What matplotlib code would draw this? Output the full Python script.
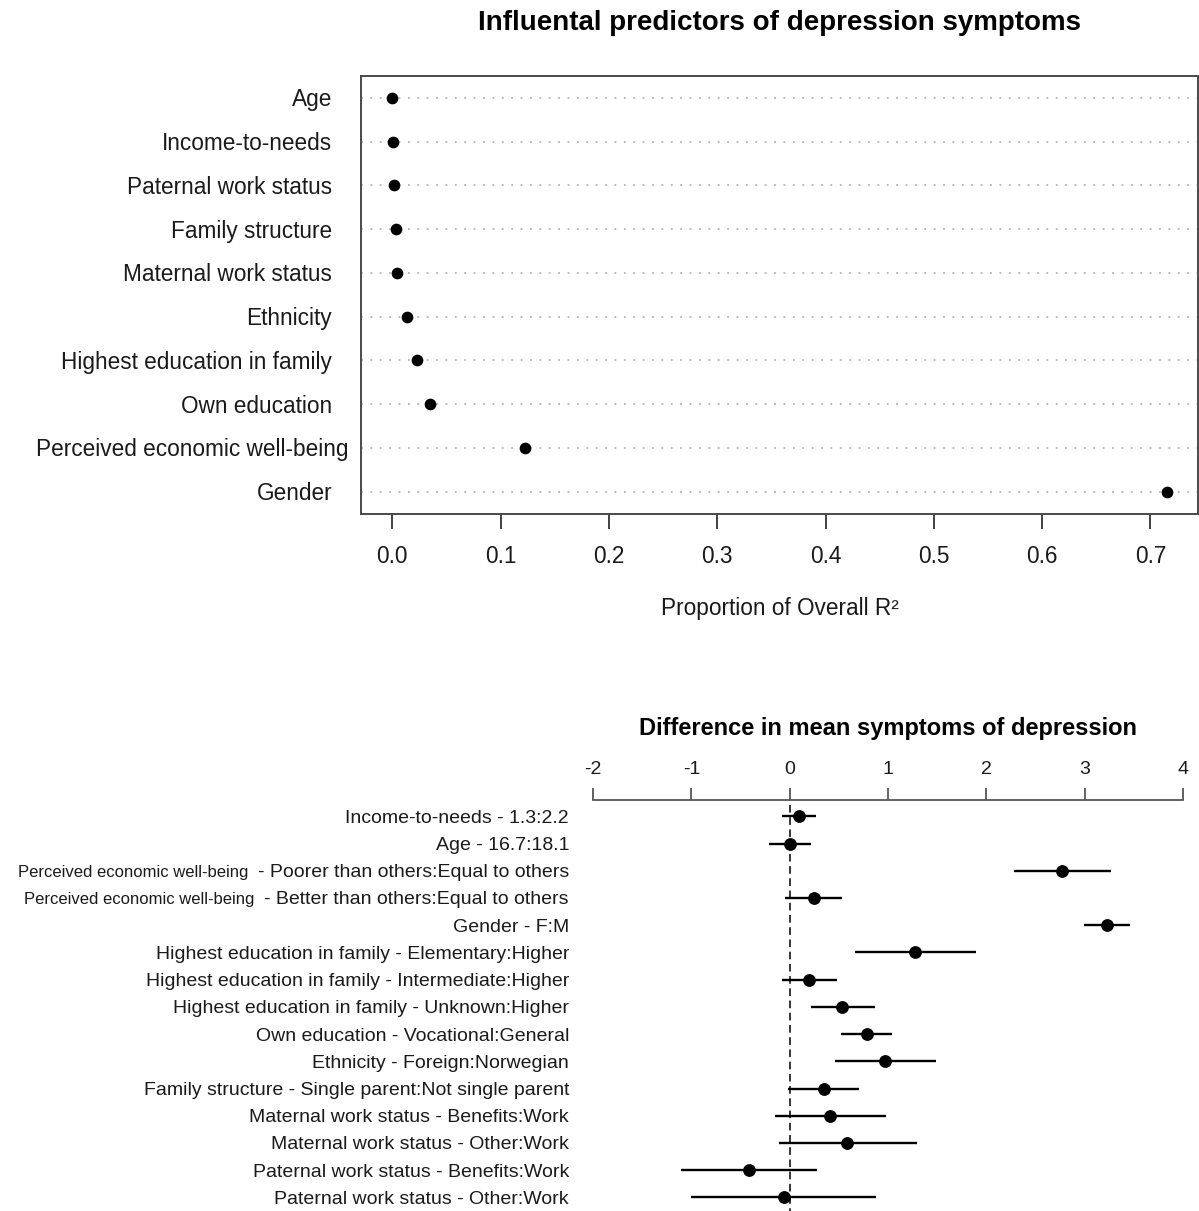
import matplotlib
matplotlib.use("Agg")
import matplotlib.pyplot as plt
import matplotlib.transforms as mtransforms
import numpy as np

plt.rcParams['font.family'] = ['Liberation Sans', 'DejaVu Sans']

# ---------------- data: top panel ----------------
predictors = ["Age", "Income-to-needs", "Paternal work status", "Family structure",
              "Maternal work status", "Ethnicity", "Highest education in family",
              "Own education", "Perceived economic well-being", "Gender"]
prop_r2 = [0.0, 0.001, 0.0013, 0.0037, 0.0046, 0.0135, 0.023, 0.035, 0.1228, 0.7153]
top_ticks = [0.0, 0.1, 0.2, 0.3, 0.4, 0.5, 0.6, 0.7]
top_tick_labels = ["0.0", "0.1", "0.2", "0.3", "0.4", "0.5", "0.6", "0.7"]

# ---------------- data: bottom panel ----------------
contrast_prefix = ["", "", "Perceived economic well-being", "Perceived economic well-being",
                   "", "", "", "", "", "", "", "", "", "", ""]
contrast_labels = ["Income-to-needs - 1.3:2.2",
                   "Age - 16.7:18.1",
                   "- Poorer than others:Equal to others",
                   "- Better than others:Equal to others",
                   "Gender - F:M",
                   "Highest education in family - Elementary:Higher",
                   "Highest education in family - Intermediate:Higher",
                   "Highest education in family - Unknown:Higher",
                   "Own education - Vocational:General",
                   "Ethnicity - Foreign:Norwegian",
                   "Family structure - Single parent:Not single parent",
                   "Maternal work status - Benefits:Work",
                   "Maternal work status - Other:Work",
                   "Paternal work status - Benefits:Work",
                   "Paternal work status - Other:Work"]
diff = [0.092, 0.0, 2.772, 0.244, 3.224, 1.272, 0.196, 0.536, 0.784, 0.968,
        0.348, 0.408, 0.588, -0.416, -0.06]
lower = [-0.08, -0.208, 2.284, -0.044, 2.992, 0.66, -0.08, 0.212, 0.524, 0.46,
         -0.016, -0.152, -0.108, -1.108, -1.0]
upper = [0.272, 0.212, 3.264, 0.532, 3.464, 1.892, 0.484, 0.864, 1.044, 1.488,
         0.708, 0.98, 1.292, 0.28, 0.88]
bottom_ticks = [-2, -1, 0, 1, 2, 3, 4]
bottom_tick_labels = ["-2", "-1", "0", "1", "2", "3", "4"]

W, H = 1199, 1211
fig = plt.figure(figsize=(W / 100, H / 100), dpi=100)

def px_axes(left, top, right, bottom):
    return fig.add_axes([left / W, 1 - bottom / H, (right - left) / W, (bottom - top) / H])

# ================= top panel =================
ax1 = px_axes(361.3, 76, 1198, 513.5)
n = len(predictors)
ypos = np.arange(1, n + 1)
rng = max(prop_r2) - min(prop_r2)
ax1.set_xlim(min(prop_r2) - 0.04 * rng, max(prop_r2) + 0.04 * rng)
ax1.set_ylim(n + 0.5, 0.5)
xl = ax1.get_xlim()
for y in ypos:
    ax1.plot(xl, [y, y], color="#b4b4b4", lw=1.3, ls=(0, (1, 4.2)), zorder=1)
ax1.plot(prop_r2, ypos, "o", color="black", ms=7.4, zorder=3)
for s in ax1.spines.values():
    s.set_color("#4a4a4a")
    s.set_linewidth(1.4)
ax1.set_yticks([])
ax1.set_xticks(top_ticks)
ax1.set_xticklabels(top_tick_labels, fontsize=16.3, color="#1a1a1a")
ax1.tick_params(axis="x", direction="out", length=10.5, width=1.3, color="#333333", pad=12)
shift_down = mtransforms.ScaledTranslation(0, -2 / 100, fig.dpi_scale_trans)
label_tr = mtransforms.blended_transform_factory(fig.transFigure, ax1.transData) + shift_down
for lab, y in zip(predictors, ypos):
    xr = 348.5 if lab.startswith("Perceived") else 332
    ax1.text(xr / W, y, lab, transform=label_tr, ha="right", va="center",
             fontsize=16.3, color="#1a1a1a")
fig.text(779.6 / W, 1 - 23 / H, "Influental predictors of depression symptoms",
         ha="center", va="center", fontsize=20, fontweight="bold")
fig.text(780 / W, 1 - 608 / H, "Proportion of Overall R\u00b2", ha="center", va="center",
         fontsize=16.3, color="#1a1a1a")

# ================= bottom panel =================
ax2 = px_axes(593, 800, 1183, 1211)
m = len(diff)
rows = np.arange(1, m + 1)
ax2.set_xlim(bottom_ticks[0], bottom_ticks[-1])
ax2.set_ylim(15.5, 0.4)
ax2.plot([0, 0], [0.6, 15.5], color="black", lw=1.1, ls=(0, (5, 3)), zorder=1, clip_on=False)
ax2.hlines(rows, lower, upper, color="black", lw=1.7, zorder=2, clip_on=False)
ax2.plot(diff, rows, "o", color="black", ms=8.2, zorder=3, clip_on=False)
for k in ["left", "right", "bottom"]:
    ax2.spines[k].set_visible(False)
ax2.spines["top"].set_color("#555555")
ax2.spines["top"].set_linewidth(1.3)
ax2.xaxis.tick_top()
ax2.set_xticks(bottom_ticks)
ax2.set_xticklabels(bottom_tick_labels, fontsize=14, color="#1a1a1a")
ax2.tick_params(axis="x", direction="out", length=8.6, width=1.3, color="#555555", pad=7.5)
ax2.set_yticks([])
lab_tr = mtransforms.blended_transform_factory(fig.transFigure, ax2.transData) + shift_down
for lab, pre, y in zip(contrast_labels, contrast_prefix, rows):
    t = ax2.text(569 / W, y, lab, transform=lab_tr, ha="right", va="center",
                 fontsize=14, color="#1a1a1a")
    if pre:
        ax2.annotate(pre, xy=(0, 0.5), xycoords=t, xytext=(-7, 0), textcoords="offset points",
                     ha="right", va="center", fontsize=12, color="#1a1a1a")
fig.text(888 / W, 1 - 728 / H, "Difference in mean symptoms of depression",
         ha="center", va="center", fontsize=17, fontweight="bold")

fig.savefig("out.png", dpi=100)
